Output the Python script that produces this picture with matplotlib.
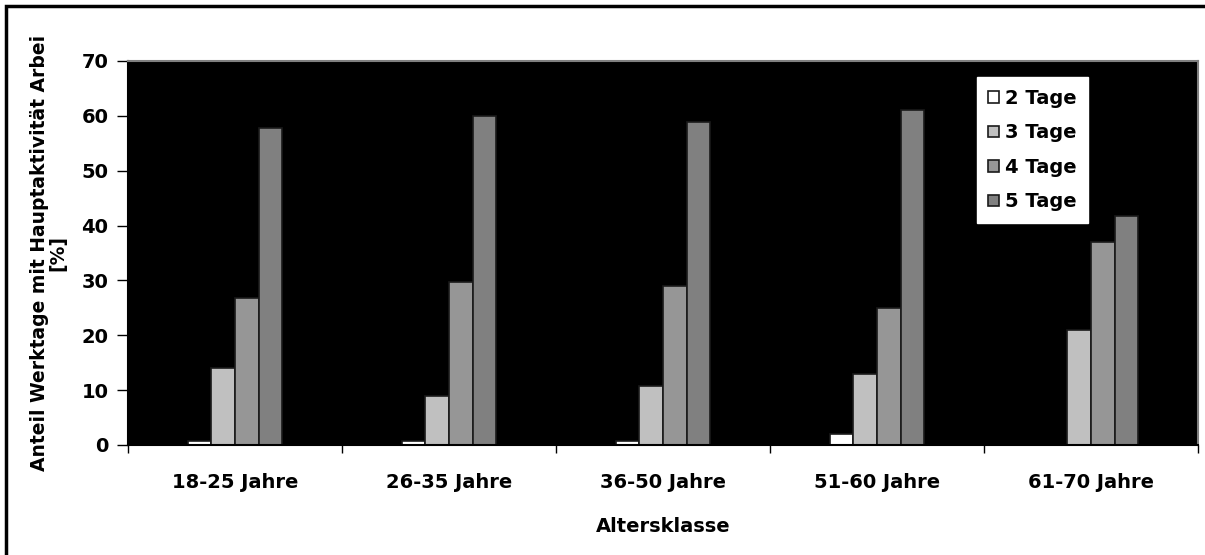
import numpy as np
import matplotlib.pyplot as plt
from matplotlib.patches import Rectangle

plt.rcParams['font.family'] = ['DejaVu Sans']
plt.rcParams['font.weight'] = 'bold'

kategorien = ['18-25 Jahre', '26-35 Jahre', '36-50 Jahre', '51-60 Jahre', '61-70 Jahre']
tage_2 = [0.8, 0.8, 0.8, 2.0, 0.0]
tage_3 = [14.0, 9.0, 10.7, 13.0, 21.0]
tage_4 = [26.8, 29.7, 29.0, 25.0, 37.0]
tage_5 = [57.8, 60.0, 58.9, 61.0, 41.7]
serien = ['2 Tage', '3 Tage', '4 Tage', '5 Tage']
farben = ['#ffffff', '#c0c0c0', '#969696', '#808080']

fig = plt.figure(figsize=(12.05, 5.55), dpi=100)
ax = fig.add_axes([128/1205, 1-445/555, 1070/1205, 384/555])
ax.set_facecolor('black')

x = np.arange(len(kategorien))
w = 0.11
for i, (werte, name) in enumerate(zip([tage_2, tage_3, tage_4, tage_5], serien)):
    ax.bar(x + (i - 1.5) * w, werte, w, color=farben[i], edgecolor='#1a1a1a',
           linewidth=1.2, label=name)

ax.set_xlim(-0.5, len(kategorien) - 0.5)
ax.set_ylim(0, 70)
ax.set_yticks(range(0, 71, 10))
ax.set_xticks(x)
ax.set_xticklabels(kategorien, fontsize=14, fontweight='bold')
ax.tick_params(axis='x', length=0, pad=20)
ax.set_xticks(np.arange(-0.5, len(kategorien)), minor=True)
ax.tick_params(axis='x', which='minor', length=6, width=1, direction='out')
ax.tick_params(axis='y', length=8, width=1, direction='out', labelsize=14, pad=6)
for lab in ax.get_yticklabels():
    lab.set_fontweight('bold')
for s in ax.spines.values():
    s.set_color('#808080')
    s.set_linewidth(1.5)
ax.spines['left'].set_color('black')
ax.spines['bottom'].set_color('black')

ax.set_xlabel('Altersklasse', fontsize=14, fontweight='bold', labelpad=18)
ax.set_ylabel('Anteil Werktage mit Hauptaktivität Arbei\n[%]', fontsize=13.5,
              fontweight='bold', labelpad=10, linespacing=1.0)

leg = ax.legend(loc='upper left', bbox_to_anchor=(0.793, 0.958), fontsize=14,
                frameon=True, fancybox=False, edgecolor='white', framealpha=1,
                handlelength=0.55, handleheight=0.55, handletextpad=0.3,
                labelspacing=0.8, borderpad=0.6, borderaxespad=0)
for t in leg.get_texts():
    t.set_fontweight('bold')

# Rahmen der Abbildung
fig.patches.append(Rectangle((6/1205, -0.05), 1.1, 1 - 6/555 + 0.05,
                             transform=fig.transFigure, fill=False,
                             edgecolor='black', linewidth=2.5))

fig.savefig('out.png', dpi=100, facecolor='white')
